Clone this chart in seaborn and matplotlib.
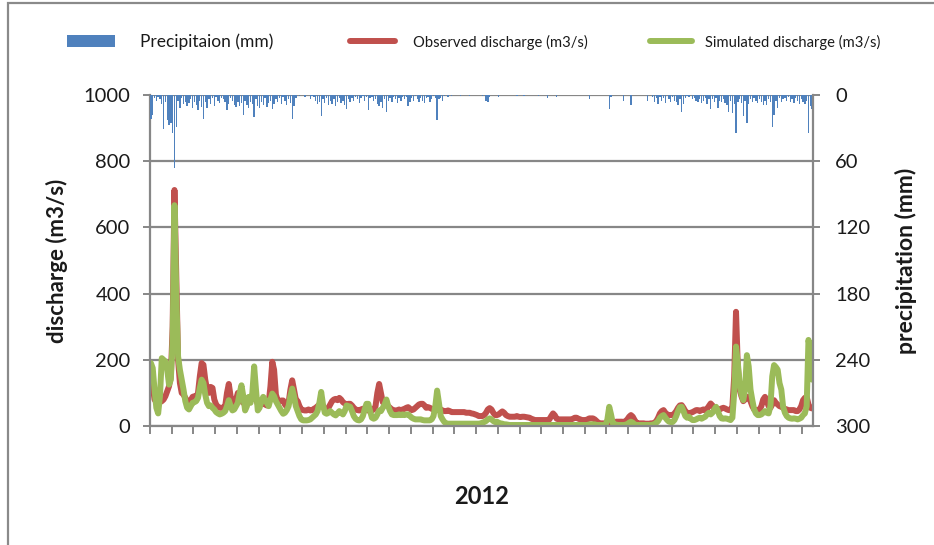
import numpy as np
import pandas as pd
import matplotlib
matplotlib.use("Agg")
import matplotlib.pyplot as plt
from matplotlib.patches import Patch, Rectangle
from matplotlib.lines import Line2D
import seaborn as sns

# Daily values for 2012 (366 days)
observed = [
    150, 120, 80, 72, 70, 72, 75, 80, 90, 105,
    120, 150, 300, 713, 450, 200, 130, 100, 95, 85,
    75, 72, 78, 88, 90, 85, 100, 150, 190, 185,
    140, 110, 100, 118, 115, 80, 65, 58, 55, 55,
    56, 60, 100, 127, 90, 67, 65, 80, 100, 85,
    75, 70, 67, 70, 75, 80, 85, 88, 80, 67,
    65, 67, 70, 65, 62, 70, 120, 194, 170, 95,
    77, 75, 77, 77, 65, 58, 70, 110, 138, 110,
    80, 75, 60, 50, 48, 47, 47, 50, 47, 48,
    52, 55, 60, 65, 67, 60, 50, 47, 55, 65,
    75, 80, 82, 78, 85, 80, 72, 68, 65, 67,
    67, 62, 55, 50, 48, 47, 50, 52, 50, 48,
    47, 45, 47, 50, 60, 100, 127, 100, 72, 68,
    67, 60, 55, 50, 48, 47, 47, 50, 47, 50,
    52, 55, 57, 52, 48, 50, 55, 60, 65, 67,
    67, 62, 55, 57, 55, 52, 50, 48, 50, 47,
    50, 47, 45, 45, 47, 45, 42, 42, 42, 42,
    42, 42, 42, 42, 40, 40, 40, 38, 37, 35,
    33, 30, 30, 30, 33, 40, 50, 54, 50, 40,
    33, 33, 35, 40, 44, 40, 33, 30, 28, 28,
    28, 28, 30, 28, 27, 28, 28, 27, 26, 25,
    22, 20, 18, 18, 18, 18, 18, 18, 18, 18,
    20, 30, 38, 32, 22, 20, 20, 20, 20, 20,
    20, 20, 20, 22, 25, 25, 22, 20, 18, 18,
    18, 20, 23, 23, 23, 20, 15, 10, 8, 8,
    8, 8, 8, 8, 8, 10, 12, 13, 13, 13,
    13, 12, 15, 20, 28, 33, 28, 18, 10, 8,
    8, 8, 8, 7, 7, 7, 8, 8, 10, 15,
    25, 38, 45, 48, 40, 35, 33, 33, 33, 38,
    45, 55, 62, 63, 55, 45, 40, 38, 40, 42,
    45, 48, 48, 45, 48, 50, 48, 52, 60, 68,
    62, 55, 52, 50, 50, 53, 55, 53, 50, 48,
    48, 60, 150, 345, 180, 110, 90, 75, 80, 88,
    88, 75, 60, 50, 48, 48, 50, 60, 80, 88,
    75, 60, 55, 65, 78, 70, 65, 60, 58, 55,
    52, 50, 48, 48, 48, 48, 45, 45, 50, 60,
    78, 85, 88, 65, 55, 53,
]

simulated = [
    190, 175, 110, 55, 38, 90, 205, 200, 195, 170,
    125, 140, 260, 667, 400, 210, 170, 140, 110, 75,
    55, 50, 60, 70, 72, 75, 85, 115, 140, 130,
    95, 70, 60, 62, 55, 50, 42, 38, 35, 37,
    40, 45, 60, 78, 60, 47, 50, 60, 70, 100,
    123, 90, 47, 60, 88, 70, 100, 180, 110, 47,
    55, 75, 88, 80, 70, 60, 80, 98, 90, 75,
    65, 55, 45, 37, 40, 48, 60, 90, 113, 90,
    60, 45, 30, 20, 17, 17, 17, 18, 20, 25,
    30, 35, 45, 70, 103, 65, 40, 37, 40, 45,
    40, 35, 32, 38, 45, 40, 35, 45, 62, 60,
    58, 45, 30, 22, 18, 17, 20, 30, 50, 67,
    67, 45, 25, 22, 25, 35, 47, 45, 55, 65,
    80, 60, 45, 35, 33, 33, 33, 35, 33, 35,
    33, 35, 35, 30, 25, 22, 20, 20, 20, 20,
    18, 17, 17, 17, 17, 20, 30, 60, 107, 70,
    30, 20, 12, 8, 7, 7, 7, 7, 7, 7,
    7, 7, 7, 7, 7, 7, 7, 7, 7, 7,
    7, 7, 8, 10, 12, 15, 20, 23, 20, 15,
    12, 13, 10, 8, 7, 5, 5, 4, 3, 3,
    3, 3, 3, 3, 3, 3, 3, 3, 3, 3,
    3, 3, 3, 3, 3, 3, 3, 3, 3, 3,
    3, 3, 3, 3, 3, 3, 3, 3, 3, 3,
    3, 3, 3, 3, 3, 3, 3, 3, 3, 3,
    3, 3, 5, 5, 5, 5, 3, 3, 3, 3,
    3, 3, 20, 58, 35, 8, 5, 4, 3, 3,
    3, 3, 4, 6, 10, 13, 10, 5, 3, 3,
    3, 3, 3, 3, 3, 3, 3, 4, 6, 10,
    15, 25, 30, 33, 25, 18, 13, 12, 12, 18,
    30, 45, 57, 58, 45, 30, 25, 28, 22, 18,
    18, 20, 23, 25, 22, 25, 28, 35, 40, 35,
    40, 50, 58, 45, 30, 23, 22, 23, 22, 20,
    18, 25, 100, 240, 190, 130, 95, 78, 110, 214,
    180, 110, 78, 50, 38, 33, 33, 35, 40, 45,
    40, 38, 60, 150, 184, 178, 170, 130, 110, 58,
    40, 30, 25, 23, 22, 23, 22, 20, 22, 25,
    33, 38, 60, 260, 230, 140,
]

precipitation = [
    22, 18, 3, 5, 2, 4, 8, 31, 6, 23,
    27, 25, 34, 66, 29, 5, 12, 3, 8, 6,
    10, 7, 4, 12, 6, 9, 14, 5, 11, 22,
    6, 12, 4, 8, 3, 10, 2, 5, 7, 3,
    4, 6, 14, 8, 3, 5, 9, 11, 6, 10,
    7, 18, 5, 9, 12, 6, 8, 20, 4, 10,
    12, 6, 9, 3, 11, 7, 5, 13, 8, 4,
    6, 3, 8, 2, 5, 9, 4, 7, 22, 10,
    3, 0, 1, 0, 0, 2, 0, 0, 4, 1,
    2, 5, 8, 6, 19, 4, 7, 3, 9, 5,
    8, 4, 10, 6, 3, 7, 5, 9, 13, 4,
    6, 3, 5, 2, 4, 7, 3, 1, 5, 2,
    14, 3, 2, 5, 4, 8, 10, 6, 12, 4,
    15, 5, 3, 6, 2, 4, 7, 3, 5, 2,
    4, 2, 10, 6, 3, 5, 1, 4, 6, 3,
    5, 7, 3, 2, 6, 4, 1, 3, 23, 4,
    3, 5, 1, 0, 2, 0, 1, 0, 0, 0,
    0, 1, 0, 0, 0, 0, 1, 0, 0, 0,
    0, 0, 0, 1, 0, 5, 6, 2, 0, 0,
    0, 0, 2, 0, 0, 0, 0, 0, 0, 0,
    0, 0, 0.5, 0, 0, 0, 0.5, 0, 0, 0,
    0, 0, 0, 0, 0.5, 0, 0, 0, 0, 3,
    0, 0, 0, 0, 2, 0, 0, 0, 0, 0,
    0, 0, 0, 0, 0, 0, 0, 0, 0, 0,
    0, 0, 4, 0, 0, 0, 0, 0, 0, 0,
    0, 0, 0, 13, 2, 0, 0, 0, 0, 0,
    0, 5, 0, 0, 0, 9, 0, 0, 0, 0,
    0, 0, 0, 0, 5, 0, 0, 2, 6, 3,
    8, 2, 5, 3, 7, 0, 4, 6, 2, 5,
    6, 9, 4, 15, 8, 3, 1, 2, 0, 4,
    3, 5, 6, 4, 7, 5, 3, 8, 4, 13,
    4, 6, 3, 12, 5, 6, 4, 7, 9, 15,
    5, 16, 8, 34, 6, 4, 7, 19, 5, 25,
    8, 4, 6, 3, 5, 7, 4, 6, 9, 5,
    9, 4, 6, 29, 18, 5, 12, 3, 6, 4,
    3, 5, 2, 6, 4, 7, 3, 5, 8, 4,
    6, 8, 5, 34, 10, 13,
]

discharge_ticks = [0, 200, 400, 600, 800, 1000]
precip_ticks = [0, 60, 120, 180, 240, 300]
year_label = "2012"

BLUE = "#4F81BD"
RED = "#C0504D"
GREEN = "#9BBB59"
AXIS_GREY = "#878787"
TEXT = "#1a1a1a"

days = np.arange(len(observed))
df = pd.DataFrame({
    "day": days,
    "observed": observed,
    "simulated": simulated,
    "precipitation": precipitation,
})

sns.set_theme(style="white")
plt.rcParams["font.family"] = ["Lato", "DejaVu Sans"]

fig = plt.figure(figsize=(9.34, 5.45), dpi=100)
ax = fig.add_axes([150 / 934, 1 - 426 / 545, 663 / 934, 331 / 545])
ax2 = ax.twinx()
ax.set_zorder(1)
ax2.set_zorder(2)
ax2.patch.set_visible(False)

# Discharge lines (left axis)
sns.lineplot(data=df, x="day", y="observed", ax=ax, color=RED,
             linewidth=4.3, solid_joinstyle="round", solid_capstyle="round")
sns.lineplot(data=df, x="day", y="simulated", ax=ax, color=GREEN,
             linewidth=4.3, solid_joinstyle="round", solid_capstyle="round")

# Precipitation bars hanging from the top (inverted right axis)
sns.barplot(data=df, x="day", y="precipitation", ax=ax2, native_scale=True,
            width=0.75, color=BLUE, saturation=1, errorbar=None, linewidth=0)

ax.set_ylim(0, 1000)
ax.set_yticks(discharge_ticks)
ax.set_yticklabels([str(t) for t in discharge_ticks])
ax2.set_ylim(300, 0)
ax2.set_yticks(precip_ticks)
ax2.set_yticklabels([str(t) for t in precip_ticks])

ax.set_xticks(np.arange(-0.5, len(observed) - 1, 12))
ax.set_xticklabels([])
ax.set_xlim(-0.5, len(observed) - 0.5)

ax.yaxis.grid(True, color=AXIS_GREY, linewidth=1.6)
ax.xaxis.grid(False)
ax2.grid(False)
ax.set_axisbelow(True)

for name, sp in ax.spines.items():
    sp.set_color(AXIS_GREY)
    sp.set_linewidth(1.6)
    sp.set_visible(name in ("left", "bottom"))
for name, sp in ax2.spines.items():
    sp.set_color(AXIS_GREY)
    sp.set_linewidth(1.6)
    sp.set_visible(name == "right")

ax.tick_params(axis="x", direction="out", length=5.5, width=1.4,
               color=AXIS_GREY, bottom=True)
ax.tick_params(axis="y", direction="out", length=5, width=1.4,
               color=AXIS_GREY, left=True, labelsize=14.5, pad=9,
               labelcolor=TEXT)
ax2.tick_params(axis="y", direction="out", length=5, width=1.4,
                color=AXIS_GREY, right=True, labelsize=14.5, pad=11,
                labelcolor=TEXT)

ax.set_ylabel("discharge (m3/s)", fontsize=16, fontweight="bold", color=TEXT)
ax.yaxis.set_label_coords(-0.123, 0.5)
ax2.set_ylabel("precipitation (mm)", fontsize=16.5, fontweight="bold", color=TEXT)
ax2.yaxis.set_label_coords(1.124, 0.5)
ax.set_xlabel(year_label, fontsize=17, fontweight="bold", color=TEXT)
ax.xaxis.set_label_coords(0.5, -0.178)
ax2.set_xlabel("")

# Legend row across the top
legend_y = 1 - 42 / 545
common = dict(loc="center left", frameon=False, borderpad=0, borderaxespad=0)
leg1 = fig.legend(handles=[Patch(facecolor=BLUE, edgecolor="none")],
                  labels=["Precipitaion (mm)"],
                  bbox_to_anchor=(67 / 934, legend_y), fontsize=12.5,
                  handlelength=2.75, handleheight=0.7, handletextpad=1.45, **common)
leg2 = fig.legend(handles=[Line2D([], [], color=RED, linewidth=4.3)],
                  labels=["Observed discharge (m3/s)"],
                  bbox_to_anchor=(350 / 934, legend_y), fontsize=10.6,
                  handlelength=3.05, handletextpad=1.25, **common)
leg3 = fig.legend(handles=[Line2D([], [], color=GREEN, linewidth=4.3)],
                  labels=["Simulated discharge (m3/s)"],
                  bbox_to_anchor=(650 / 934, legend_y), fontsize=10.6,
                  handlelength=2.85, handletextpad=0.9, **common)
for leg in (leg1, leg2, leg3):
    for t in leg.get_texts():
        t.set_color(TEXT)

# Chart-area frame (left and top edges visible)
fig.add_artist(Rectangle((7.5 / 934, -0.1), 1.2, 1.1 - 2.5 / 545,
                         transform=fig.transFigure, fill=False,
                         edgecolor="#8a8a8a", linewidth=1.6))

fig.savefig("out.png", dpi=100)
